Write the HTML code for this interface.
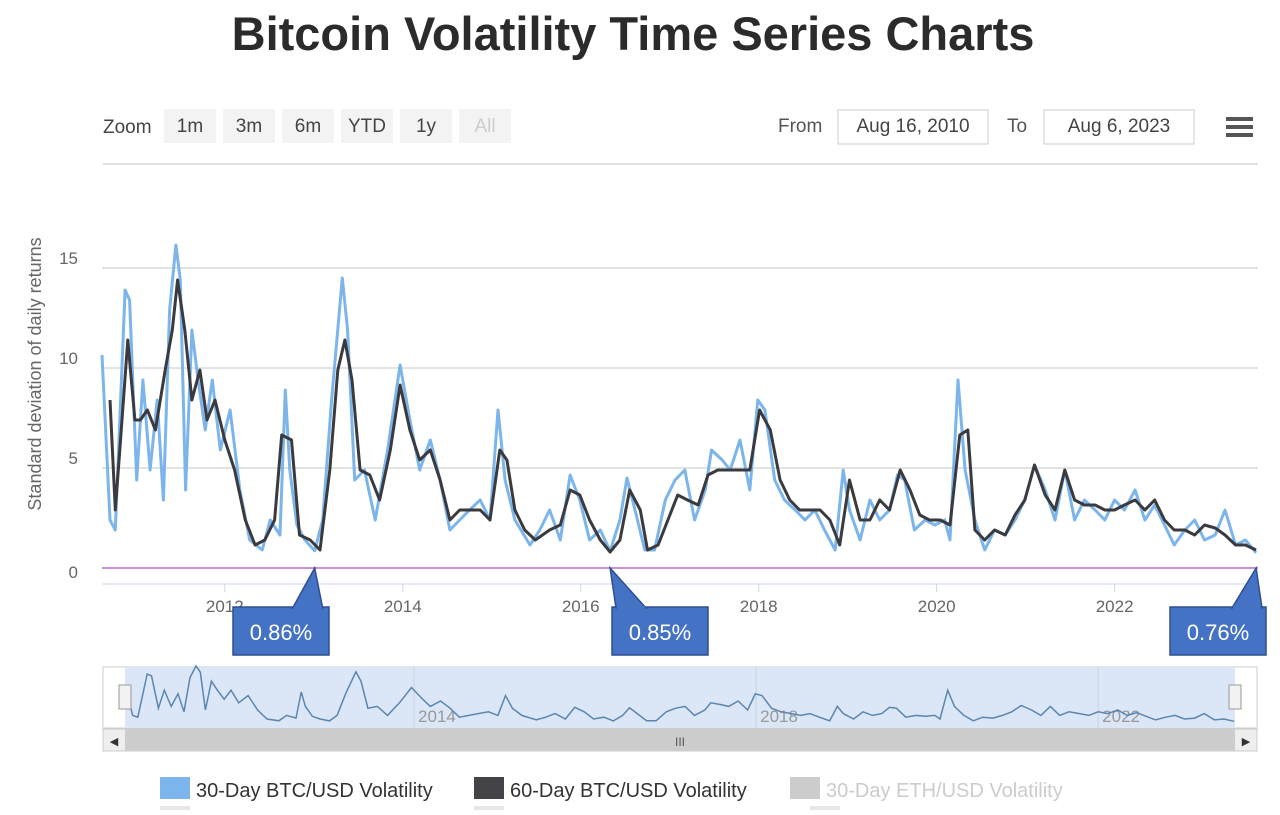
<!DOCTYPE html>
<html><head><meta charset="utf-8"><style>
body{margin:0;background:#fff;width:1280px;height:810px;overflow:hidden;font-family:"Liberation Sans",sans-serif}
</style></head><body>
<svg id="c" width="1280" height="810" font-family="Liberation Sans, sans-serif">
<text x="633" y="50" text-anchor="middle" font-size="47" font-weight="bold" fill="#2b2b2b">Bitcoin Volatility Time Series Charts</text>
<g font-size="19" fill="#444">
<text x="103" y="133">Zoom</text>
<rect x="164" y="109" width="52" height="34" fill="#f3f3f3"/><text x="190" y="132" text-anchor="middle">1m</text>
<rect x="223" y="109" width="52" height="34" fill="#f3f3f3"/><text x="249" y="132" text-anchor="middle">3m</text>
<rect x="282" y="109" width="52" height="34" fill="#f3f3f3"/><text x="308" y="132" text-anchor="middle">6m</text>
<rect x="341" y="109" width="52" height="34" fill="#f3f3f3"/><text x="367" y="132" text-anchor="middle">YTD</text>
<rect x="400" y="109" width="52" height="34" fill="#f3f3f3"/><text x="426" y="132" text-anchor="middle">1y</text>
<rect x="459" y="109" width="52" height="34" fill="#f3f3f3"/><text x="485" y="132" text-anchor="middle" fill="#ccc">All</text>
</g>
<text x="778" y="132" font-size="19" fill="#555">From</text>
<rect x="838" y="110" width="150" height="34" fill="#fff" stroke="#ccc"/>
<text x="913" y="132" text-anchor="middle" font-size="19" fill="#444">Aug 16, 2010</text>
<text x="1007" y="132" font-size="19" fill="#555">To</text>
<rect x="1044" y="110" width="150" height="34" fill="#fff" stroke="#ccc"/>
<text x="1119" y="132" text-anchor="middle" font-size="19" fill="#444">Aug 6, 2023</text>
<g fill="#555"><rect x="1226" y="117" width="27" height="4"/><rect x="1226" y="125" width="27" height="4"/><rect x="1226" y="133" width="27" height="4"/></g>
<line x1="103" y1="164" x2="1258" y2="164" stroke="#e0e0e0" stroke-width="2"/>
<text transform="translate(41,374) rotate(-90)" text-anchor="middle" font-size="18" fill="#666">Standard deviation of daily returns</text>
<g id="grid"></g><g id="series"></g><g id="nav"></g>
<g font-size="20">
<rect x="160" y="777" width="30" height="22" fill="#7cb5ec"/><text x="196" y="797" fill="#333">30-Day BTC/USD Volatility</text>
<rect x="474" y="777" width="30" height="22" fill="#434348"/><text x="510" y="797" fill="#333">60-Day BTC/USD Volatility</text>
<rect x="790" y="777" width="30" height="22" fill="#ccc"/><text x="826" y="797" fill="#ccc">30-Day ETH/USD Volatility</text>
<rect x="160" y="806" width="30" height="10" fill="#e8e8e8"/><rect x="474" y="806" width="30" height="10" fill="#e8e8e8"/><rect x="810" y="806" width="30" height="10" fill="#e8e8e8"/>
</g>
</svg>
<script>
const yTicks=[0,5,10,15];
const xTicks=[2012,2014,2016,2018,2020,2022];
const dates30=[2010.62,2010.71,2010.77,2010.88,2010.93,2011.01,2011.08,2011.16,2011.24,2011.31,2011.38,2011.45,2011.5,2011.56,2011.63,2011.70,2011.78,2011.86,2011.95,2012.06,2012.17,2012.28,2012.42,2012.51,2012.62,2012.68,2012.73,2012.81,2012.90,2013.01,2013.10,2013.20,2013.32,2013.38,2013.46,2013.57,2013.69,2013.83,2013.97,2014.08,2014.19,2014.31,2014.42,2014.53,2014.64,2014.75,2014.87,2014.98,2015.07,2015.15,2015.26,2015.43,2015.54,2015.65,2015.77,2015.88,2015.99,2016.10,2016.22,2016.33,2016.44,2016.52,2016.61,2016.72,2016.83,2016.95,2017.06,2017.17,2017.28,2017.40,2017.47,2017.59,2017.68,2017.79,2017.90,2017.99,2018.07,2018.18,2018.29,2018.41,2018.52,2018.63,2018.74,2018.86,2018.95,2019.02,2019.14,2019.25,2019.36,2019.47,2019.56,2019.64,2019.75,2019.87,2019.98,2020.09,2020.15,2020.24,2020.32,2020.43,2020.54,2020.65,2020.77,2020.88,2020.99,2021.10,2021.22,2021.33,2021.44,2021.55,2021.66,2021.78,2021.89,2022.00,2022.11,2022.23,2022.34,2022.45,2022.56,2022.67,2022.79,2022.90,2023.01,2023.13,2023.24,2023.36,2023.47,2023.59];
const vol30=[10.65,2.4,1.9,13.9,13.4,4.4,9.4,4.9,8.4,3.4,12.9,16.15,14.4,3.9,11.9,9.4,6.9,9.4,5.9,7.9,3.9,1.4,0.9,2.4,1.65,8.9,4.9,2.15,1.4,0.86,2.4,8.4,14.5,11.9,4.4,4.9,2.4,5.9,10.15,7.4,4.9,6.4,4.4,1.9,2.4,2.9,3.4,2.4,7.9,4.4,2.4,1.15,1.9,2.9,1.4,4.65,3.4,1.4,1.9,0.85,2.4,4.5,2.9,0.9,0.9,3.4,4.4,4.9,2.4,3.9,5.9,5.4,4.9,6.4,3.9,8.4,7.9,4.4,3.4,2.9,2.4,2.9,1.9,0.9,4.9,2.9,1.4,3.4,2.4,2.9,4.65,4.4,1.9,2.4,2.15,2.4,1.4,9.4,4.9,2.4,0.9,1.9,1.65,2.4,3.4,5.15,3.9,2.4,4.9,2.4,3.4,2.9,2.4,3.4,2.9,3.9,2.4,3.15,2.15,1.15,1.9,2.4,1.4,1.65,2.9,1.15,1.4,0.76];
const dates60=[2010.71,2010.77,2010.82,2010.91,2010.99,2011.05,2011.13,2011.22,2011.33,2011.41,2011.47,2011.55,2011.63,2011.72,2011.80,2011.89,2012.00,2012.11,2012.23,2012.34,2012.45,2012.56,2012.64,2012.75,2012.84,2012.96,2013.07,2013.18,2013.27,2013.35,2013.43,2013.52,2013.63,2013.74,2013.86,2013.97,2014.08,2014.19,2014.31,2014.42,2014.53,2014.64,2014.75,2014.87,2014.98,2015.09,2015.17,2015.26,2015.37,2015.49,2015.65,2015.77,2015.88,2015.99,2016.10,2016.22,2016.33,2016.44,2016.55,2016.67,2016.75,2016.87,2016.98,2017.09,2017.20,2017.32,2017.43,2017.54,2017.65,2017.79,2017.90,2018.01,2018.13,2018.24,2018.35,2018.46,2018.58,2018.69,2018.80,2018.91,2019.02,2019.14,2019.25,2019.36,2019.47,2019.59,2019.70,2019.81,2019.92,2020.04,2020.15,2020.26,2020.35,2020.43,2020.54,2020.65,2020.77,2020.88,2020.99,2021.10,2021.22,2021.33,2021.44,2021.55,2021.66,2021.78,2021.89,2022.00,2022.11,2022.23,2022.34,2022.45,2022.56,2022.67,2022.79,2022.90,2023.01,2023.13,2023.24,2023.36,2023.47,2023.59];
const vol60=[8.4,2.9,5.9,11.4,7.4,7.4,7.9,6.9,9.9,11.9,14.4,11.9,8.4,9.9,7.4,8.4,6.4,4.9,2.4,1.15,1.4,2.4,6.65,6.4,1.65,1.4,0.9,4.9,9.9,11.4,9.4,4.9,4.65,3.4,5.9,9.15,6.9,5.4,5.9,4.4,2.4,2.9,2.9,2.9,2.4,5.9,5.4,2.9,1.9,1.4,1.9,2.15,3.9,3.65,2.4,1.4,0.8,1.4,3.9,2.9,0.9,1.15,2.4,3.65,3.4,3.15,4.65,4.9,4.9,4.9,4.9,7.9,6.9,4.4,3.4,2.9,2.9,2.9,2.4,1.15,4.4,2.4,2.4,3.4,2.9,4.9,3.9,2.65,2.4,2.4,2.15,6.65,6.9,1.9,1.4,1.9,1.65,2.65,3.4,5.15,3.65,2.9,4.9,3.4,3.15,3.15,2.9,2.9,3.15,3.4,2.9,3.4,2.4,1.9,1.9,1.65,2.15,2.0,1.65,1.15,1.15,0.9];
const calloutDates=[2013.01,2016.33,2023.59];
const calloutLabels=["0.86%","0.85%","0.76%"];
const calloutBoxLeft=[233,612,1170];

const NS="http://www.w3.org/2000/svg";
const X0=102,X1=1257,D0=2010.62,D1=2023.6,Y0=568,PX=20;
const xs=d=>X0+(d-D0)/(D1-D0)*(X1-X0);
const ys=v=>Y0-v*PX;
function mk(tag,attrs,parent){const e=document.createElementNS(NS,tag);for(const k in attrs)e.setAttribute(k,attrs[k]);parent.appendChild(e);return e;}
const grid=document.getElementById('grid');
yTicks.forEach(t=>{
 const l=mk('line',{x1:X0,x2:X1+1,y1:ys(t),y2:ys(t),stroke:t===0?'#b36fc9':'#e3e3e3','stroke-width':t===0?1.5:2},grid);
 
 
 const tx=mk('text',{x:78,y:ys(t)+(t===0?10:-4),'text-anchor':'end','font-size':17,fill:'#666'},grid);tx.textContent=t;
 
 
});
mk('line',{x1:X0,x2:X1,y1:584,y2:584,stroke:'#ccd6eb','stroke-width':1},grid);
xTicks.forEach(t=>{
 const tx=mk('text',{x:xs(t),y:612,'text-anchor':'middle','font-size':17,fill:'#666'},grid);tx.textContent=t;
 
 
 mk('line',{x1:xs(t),x2:xs(t),y1:584,y2:592,stroke:'#ccd6eb'},grid);
});
const ser=document.getElementById('series');
function path(ds,vs,sx,sy){const n=Math.min(ds.length,vs.length);let s='';for(let i=0;i<n;i++)s+=(i?'L':'M')+sx(ds[i]).toFixed(1)+','+sy(vs[i]).toFixed(1);return s;}
const p30=mk('path',{d:path(dates30,vol30,xs,ys),fill:'none',stroke:'#7cb5ec','stroke-width':3,'stroke-linejoin':'round'},ser);


const p60=mk('path',{d:path(dates60,vol60,xs,ys),fill:'none',stroke:'#3a3a3f','stroke-width':3,'stroke-linejoin':'round'},ser);


calloutDates.forEach((d,i)=>{
 const px=xs(d),py=ys(0);
 const bx=calloutBoxLeft[i],bw=96;
 const g=mk('g',{},ser);
 
 
 mk('rect',{x:bx,y:607,width:bw,height:48,fill:'#4472c4',stroke:'#2f4f8f','stroke-width':1.5},g);
 const a=Math.min(Math.max(px-22,bx+4),bx+bw-34);
 mk('path',{d:`M${a},608 L${px},${py} L${a+30},608 Z`,fill:'#4472c4',stroke:'#2f4f8f','stroke-width':1.5},g);
 mk('rect',{x:a+1,y:606,width:28,height:4,fill:'#4472c4'},g);
 const t=mk('text',{x:bx+bw/2,y:640,'text-anchor':'middle','font-size':22,fill:'#fff'},g);t.textContent=calloutLabels[i];
});
// navigator
const nav=document.getElementById('nav');
const NX0=103,NX1=1257,NT=667,NB=728;
mk('rect',{x:NX0,y:NT,width:NX1-NX0,height:NB-NT,fill:'#fff',stroke:'#ccc'},nav);
const sel=mk('rect',{x:125,y:NT,width:1110,height:NB-NT,fill:'#dbe7f6'},nav);


const nxs=d=>125+(d-D0)/(D1-D0)*1110;
const nys=v=>NB-4-v*3.6;
[2014,2018,2022].forEach(t=>{mk('line',{x1:nxs(t),x2:nxs(t),y1:NT,y2:NB,stroke:'#c9d3e0'},nav);const tx=mk('text',{x:nxs(t)+4,y:722,'font-size':17,fill:'#999'},nav);tx.textContent=t;});
const np=mk('path',{d:path(dates30,vol30,nxs,nys),fill:'none',stroke:'#5b86b0','stroke-width':1.5},nav);


[125,1235].forEach(x=>{const h=mk('rect',{x:x-6,y:685,width:12,height:24,fill:'#f2f2f2',stroke:'#999'},nav);
 
 });
const sb=mk('rect',{x:103,y:729,width:1154,height:22,fill:'#eee',stroke:'#ccc'},nav);


const th=mk('rect',{x:125,y:729,width:1110,height:22,fill:'#ccc'},nav);


const t3=mk('text',{x:680,y:746,'text-anchor':'middle','font-size':12,fill:'#555'},nav);t3.textContent='III';
const la=mk('text',{x:114,y:745,'text-anchor':'middle','font-size':11,fill:'#333'},nav);la.textContent='◀';


const ra=mk('text',{x:1246,y:745,'text-anchor':'middle','font-size':11,fill:'#333'},nav);ra.textContent='▶';


</script>
</body></html>
